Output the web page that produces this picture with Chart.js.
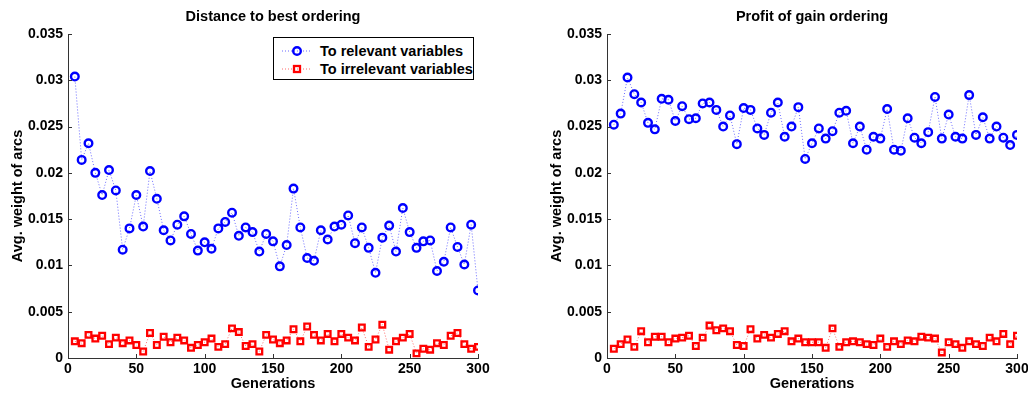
<!DOCTYPE html>
<html>
<head>
<meta charset="utf-8">
<script src="https://cdn.jsdelivr.net/npm/chart.js@4/dist/chart.umd.min.js"></script>
<style>
  html, body { margin: 0; padding: 0; background: #fff; overflow: hidden; }
  body { width: 1028px; height: 394px; position: relative; font-family: "Liberation Sans", Arial, sans-serif; }
  .panel { position: absolute; top: 0; width: 514px; height: 394px; }
  #left { left: 0; }
  #right { left: 539px; }
  .legend {
    position: absolute; left: 273px; top: 37px; width: 199px; height: 41px;
    border: 1px solid #000; background: #fff; font-weight: bold; font-size: 14.5px;
  }
  .legend .row { position: absolute; left: 0; height: 18px; line-height: 18px; white-space: nowrap; }
  .legend svg { position: absolute; left: 6px; top: 0; }
  .legend span { position: absolute; left: 46px; }
</style>
</head>
<body>
<div class="panel" id="left"><canvas id="chart-left" width="514" height="394"></canvas></div>
<div class="panel" id="right"><canvas id="chart-right" width="514" height="394"></canvas></div>
<div class="legend">
  <div class="row" style="top:4px">
    <svg width="34" height="18"><line x1="2" y1="9" x2="32" y2="9" stroke="#6b6bff" stroke-width="1" stroke-dasharray="1,2"/><circle cx="17" cy="9" r="3.8" fill="none" stroke="#0000ff" stroke-width="2.4"/></svg>
    <span>To relevant variables</span>
  </div>
  <div class="row" style="top:22px">
    <svg width="34" height="18"><line x1="2" y1="9" x2="32" y2="9" stroke="#ff6b6b" stroke-width="1" stroke-dasharray="1,2"/><rect x="14" y="6" width="6" height="6" fill="none" stroke="#ff0000" stroke-width="2.3"/></svg>
    <span>To irrelevant variables</span>
  </div>
</div>
<script>
// --- Data ---
const generations = [5, 10, 15, 20, 25, 30, 35, 40, 45, 50, 55, 60, 65, 70, 75, 80, 85, 90, 95, 100,
  105, 110, 115, 120, 125, 130, 135, 140, 145, 150, 155, 160, 165, 170, 175, 180, 185, 190, 195, 200,
  205, 210, 215, 220, 225, 230, 235, 240, 245, 250, 255, 260, 265, 270, 275, 280, 285, 290, 295, 300];

const distRelevant = [0.0304, 0.0214, 0.0232, 0.0200, 0.0176, 0.0203, 0.0181, 0.0117, 0.0140, 0.0176,
  0.0142, 0.0202, 0.0172, 0.0138, 0.0127, 0.0144, 0.0153, 0.0134, 0.0116, 0.0125,
  0.0118, 0.0140, 0.0147, 0.0157, 0.0132, 0.0141, 0.0136, 0.0115, 0.0134, 0.0126,
  0.0099, 0.0122, 0.0183, 0.0141, 0.0108, 0.0105, 0.0138, 0.0128, 0.0142, 0.0144,
  0.0154, 0.0124, 0.0141, 0.0119, 0.0092, 0.0130, 0.0143, 0.0115, 0.0162, 0.0136,
  0.0119, 0.0126, 0.0127, 0.0094, 0.0104, 0.0141, 0.0120, 0.0101, 0.0144, 0.0073];

const distIrrelevant = [0.0018, 0.0016, 0.0025, 0.0021, 0.0024, 0.0015, 0.0022, 0.0016, 0.0019, 0.0014,
  0.0007, 0.0027, 0.0014, 0.0023, 0.0017, 0.0022, 0.0019, 0.0011, 0.0014, 0.0017,
  0.0021, 0.0012, 0.0015, 0.0032, 0.0028, 0.0013, 0.0015, 0.0007, 0.0025, 0.0020,
  0.0016, 0.0019, 0.0031, 0.0018, 0.0034, 0.0025, 0.0019, 0.0026, 0.0018, 0.0026,
  0.0022, 0.0019, 0.0033, 0.0012, 0.0020, 0.0036, 0.0009, 0.0018, 0.0022, 0.0026,
  0.0005, 0.0010, 0.0009, 0.0016, 0.0014, 0.0024, 0.0027, 0.0015, 0.0010, 0.0012];

const profitRelevant = [0.0252, 0.0264, 0.0303, 0.0285, 0.0276, 0.0254, 0.0247, 0.0280, 0.0279, 0.0256,
  0.0272, 0.0258, 0.0259, 0.0275, 0.0276, 0.0268, 0.0250, 0.0262, 0.0231, 0.0270,
  0.0268, 0.0248, 0.0241, 0.0265, 0.0276, 0.0239, 0.0250, 0.0271, 0.0215, 0.0232,
  0.0248, 0.0237, 0.0245, 0.0265, 0.0267, 0.0232, 0.0250, 0.0225, 0.0239, 0.0237,
  0.0269, 0.0225, 0.0224, 0.0259, 0.0238, 0.0232, 0.0244, 0.0282, 0.0237, 0.0263,
  0.0239, 0.0237, 0.0284, 0.0241, 0.0260, 0.0237, 0.0250, 0.0238, 0.0230, 0.0241];

const profitIrrelevant = [0.0010, 0.0015, 0.0020, 0.0012, 0.0029, 0.0017, 0.0023, 0.0023, 0.0017, 0.0021,
  0.0022, 0.0024, 0.0013, 0.0022, 0.0035, 0.0030, 0.0032, 0.0029, 0.0014, 0.0013,
  0.0031, 0.0021, 0.0025, 0.0022, 0.0026, 0.0029, 0.0018, 0.0021, 0.0017, 0.0017,
  0.0017, 0.0011, 0.0032, 0.0012, 0.0017, 0.0018, 0.0017, 0.0015, 0.0014, 0.0021,
  0.0012, 0.0018, 0.0015, 0.0019, 0.0018, 0.0023, 0.0022, 0.0021, 0.0006, 0.0017,
  0.0015, 0.0011, 0.0018, 0.0015, 0.0013, 0.0022, 0.0018, 0.0026, 0.0015, 0.0024];

const xTicks = [0, 50, 100, 150, 200, 250, 300];
const yTicks = [0, 0.005, 0.01, 0.015, 0.02, 0.025, 0.03, 0.035];

const FONT = "'Liberation Sans', Arial, sans-serif";

// inward tick marks, matlab style
const innerTicks = {
  id: "innerTicks",
  afterLayout(chart) {
    // center the title over the plot area, not the whole canvas
    const tb = chart.titleBlock;
    if (tb) {
      tb.left = chart.chartArea.left;
      tb.right = chart.chartArea.right;
      tb.width = tb.right - tb.left;
    }
  },
  afterDraw(chart) {
    const { ctx, chartArea } = chart;
    const xs = chart.scales.x, ys = chart.scales.y;
    ctx.save();
    ctx.strokeStyle = "#333";
    ctx.lineWidth = 1;
    ctx.beginPath();
    xTicks.forEach(v => {
      const px = Math.round(xs.getPixelForValue(v)) + 0.5;
      ctx.moveTo(px, chartArea.bottom);
      ctx.lineTo(px, chartArea.bottom - 4);
    });
    yTicks.forEach(v => {
      const py = Math.round(ys.getPixelForValue(v)) + 0.5;
      ctx.moveTo(chartArea.left, py);
      ctx.lineTo(chartArea.left + 4, py);
    });
    ctx.stroke();
    ctx.restore();
  }
};

function toPoints(vals) {
  return generations.map((g, i) => ({ x: g, y: vals[i] }));
}

function makeChart(canvasId, title, relevant, irrelevant) {
  const ctx = document.getElementById(canvasId).getContext("2d");
  return new Chart(ctx, {
    type: "line",
    data: {
      datasets: [
        {
          label: "To relevant variables",
          data: toPoints(relevant),
          borderColor: "#6b6bff",
          borderWidth: 1,
          borderDash: [1, 2],
          pointStyle: "circle",
          pointRadius: 3.8,
          pointBorderWidth: 2.4,
          pointBorderColor: "#0000ff",
          pointBackgroundColor: "rgba(0,0,0,0)",
          tension: 0
        },
        {
          label: "To irrelevant variables",
          data: toPoints(irrelevant),
          borderColor: "#ff6b6b",
          borderWidth: 1,
          borderDash: [1, 2],
          pointStyle: "rect",
          pointRadius: 4,
          pointBorderWidth: 2.3,
          pointBorderColor: "#ff0000",
          pointBackgroundColor: "rgba(0,0,0,0)",
          tension: 0
        }
      ]
    },
    options: {
      responsive: false,
      animation: false,
      layout: { padding: { left: 0, right: 36, top: 0, bottom: 0 } },
      plugins: {
        legend: { display: false },
        tooltip: { enabled: false },
        title: {
          display: true,
          text: title,
          color: "#000",
          font: { family: FONT, size: 14.5, weight: "bold" },
          padding: { top: 8.6, bottom: 8 }
        }
      },
      scales: {
        x: {
          type: "linear",
          min: 0, max: 300,
          afterFit(scale) { scale.height = 36; },
          afterBuildTicks(scale) { scale.ticks = xTicks.map(v => ({ value: v })); },
          grid: { drawOnChartArea: false, drawTicks: false },
          border: { display: true, color: "#333", width: 1 },
          ticks: {
            padding: 3,
            color: "#000",
            maxRotation: 0,
            font: { family: FONT, size: 14, weight: "bold" }
          },
          title: {
            display: true,
            text: "Generations",
            color: "#000",
            font: { family: FONT, size: 14.5, weight: "bold" },
            padding: { top: 0, bottom: 1 }
          }
        },
        y: {
          min: 0, max: 0.035,
          afterFit(scale) { scale.width = 68; },
          afterBuildTicks(scale) { scale.ticks = yTicks.map(v => ({ value: v })); },
          grid: { drawOnChartArea: false, drawTicks: false },
          border: { display: true, color: "#333", width: 1 },
          ticks: {
            padding: 5,
            color: "#000",
            font: { family: FONT, size: 14, weight: "bold" },
            callback: v => v === 0 ? "0" : String(+v.toFixed(3))
          },
          title: {
            display: true,
            text: "Avg. weight of arcs",
            color: "#000",
            font: { family: FONT, size: 14.5, weight: "bold" },
            padding: { top: 9.3, bottom: 0 }
          }
        }
      }
    },
    plugins: [innerTicks]
  });
}

makeChart("chart-left", "Distance to best ordering", distRelevant, distIrrelevant);
makeChart("chart-right", "Profit of gain ordering", profitRelevant, profitIrrelevant);
</script>
</body>
</html>
